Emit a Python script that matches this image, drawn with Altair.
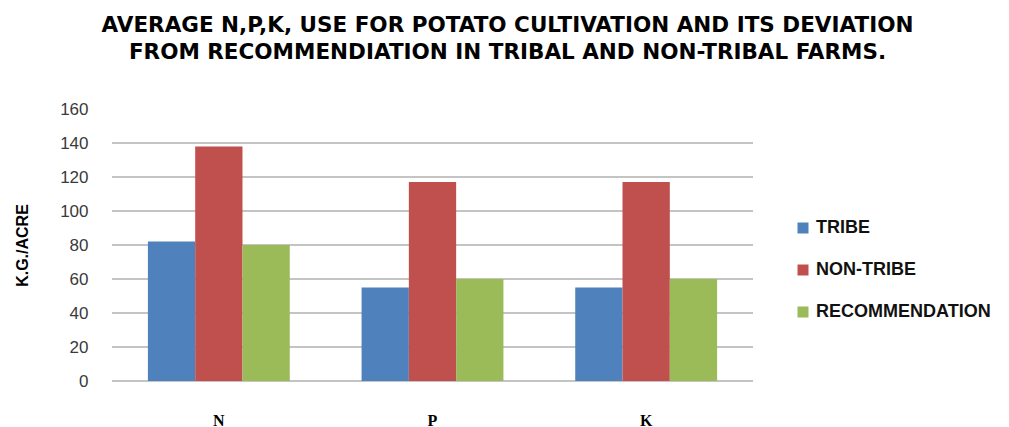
import altair as alt
import pandas as pd

nutrients = ["N", "P", "K"]
groups = ["TRIBE", "NON-TRIBE", "RECOMMENDATION"]
tribe = [82, 55, 55]
non_tribe = [138, 117, 117]
recommendation = [80, 60, 60]
grid_values = [0, 20, 40, 60, 80, 100, 120, 140]
tick_values = [0, 20, 40, 60, 80, 100, 120, 140, 160]
colors = ["#4F81BD", "#C0504D", "#9BBB59"]

rows = []
for i, n in enumerate(nutrients):
    for g, series in zip(groups, [tribe, non_tribe, recommendation]):
        rows.append({"nutrient": n, "group": g, "value": series[i]})
df = pd.DataFrame(rows)
grid_df = pd.DataFrame({"value": grid_values})

yscale = alt.Scale(domain=[0, 160], nice=False)
yaxis = alt.Axis(
    title="K.G./ACRE", values=tick_values, grid=False, domain=False,
    ticks=False, labelPadding=24, labelFont="Liberation Sans",
    labelFontSize=17, labelColor="#3a3a3a",
    titleFont="Liberation Sans", titleFontSize=16, titleFontWeight="bold",
    titleColor="#000000", titleX=-90, titleY=136, titleAngle=-90,
    titleAlign="center", titleBaseline="middle",
)

grid = alt.Chart(grid_df).mark_rule(color="#8a8a8a", strokeWidth=1.2).encode(
    y=alt.Y("value:Q", scale=yscale, axis=yaxis)
)

bars = alt.Chart(df).mark_bar().encode(
    x=alt.X(
        "nutrient:N",
        sort=nutrients,
        scale=alt.Scale(paddingInner=0.336, paddingOuter=0.168),
        axis=alt.Axis(
            title=None, labelAngle=0, domain=False, ticks=False,
            labelFont="Liberation Serif", labelFontWeight="bold",
            labelFontSize=16, labelColor="#000000", labelPadding=31,
        ),
    ),
    xOffset=alt.XOffset("group:N", sort=groups,
                        scale=alt.Scale(paddingInner=0, paddingOuter=0)),
    y=alt.Y("value:Q", scale=yscale, axis=yaxis),
    color=alt.Color(
        "group:N", sort=groups,
        scale=alt.Scale(domain=groups, range=colors),
        legend=alt.Legend(
            title=None, orient="none", legendX=682, legendY=110,
            symbolType="square", symbolSize=121, symbolStrokeWidth=0,
            labelFont="Liberation Sans", labelFontSize=18, labelFontWeight="bold",
            labelColor="#111111", rowPadding=24, labelOffset=4, padding=0,
            labelLimit=400,
        ),
    ),
)

chart = alt.layer(grid, bars).properties(
    width=641,
    height=272,
    padding={"left": 104, "top": 101, "right": 248, "bottom": 50},
    autosize=alt.AutoSizeParams(type="none"),
    title=alt.TitleParams(
        text=["AVERAGE N,P,K, USE FOR POTATO CULTIVATION  AND ITS DEVIATION",
              "FROM RECOMMENDIATION IN TRIBAL AND NON-TRIBAL FARMS."],
        font="DejaVu Sans", fontSize=21.5, fontWeight="bold", color="#000000",
        anchor="middle", frame="group", dx=75, offset=37, lineHeight=27,
    ),
).configure_view(stroke=None)

chart.save("out.html", embed_options={"renderer": "svg", "actions": False})
